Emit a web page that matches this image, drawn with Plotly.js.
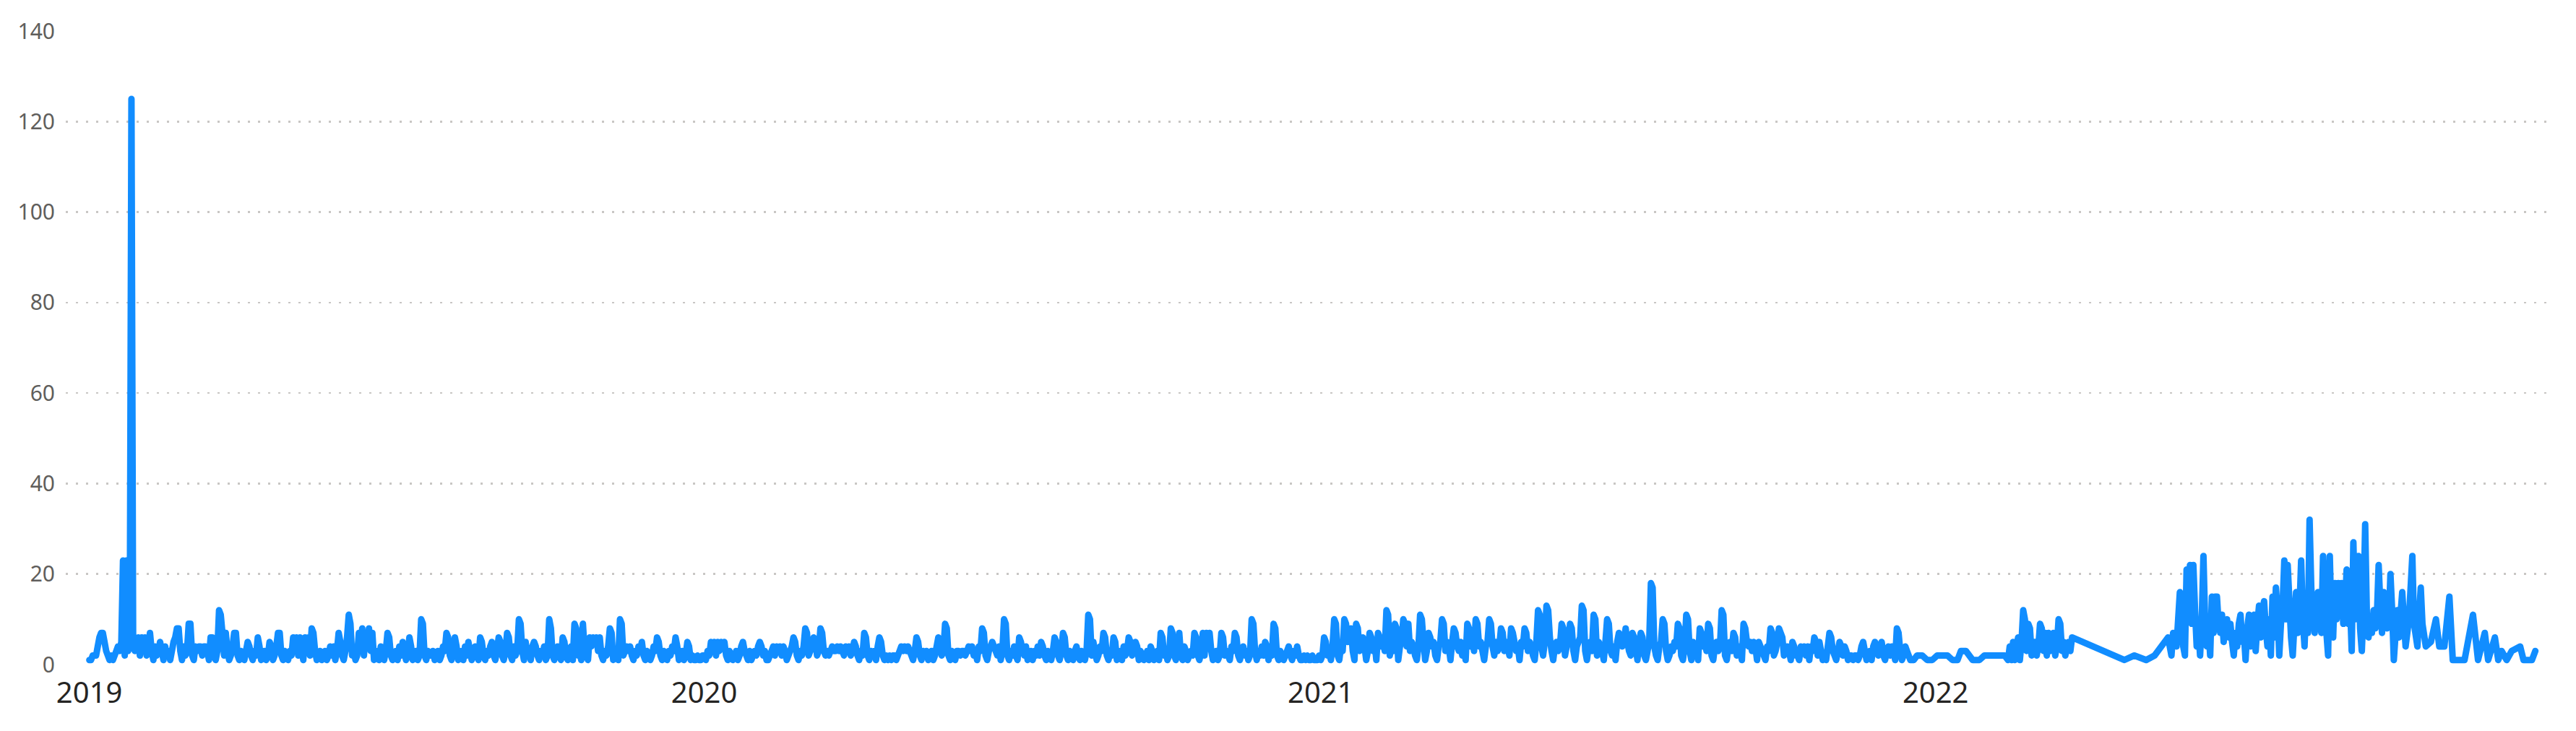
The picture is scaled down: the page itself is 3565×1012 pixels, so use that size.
<!DOCTYPE html>
<html>
<head>
<meta charset="utf-8">
<script src="https://cdn.plot.ly/plotly-3.0.1.min.js"></script>
<style>
  html, body { margin: 0; padding: 0; background: #fff; }
  .js-line { stroke-linejoin: round; stroke-linecap: round; }
</style>
</head>
<body>
<div id="graph" style="width:3565px;height:1012px;"></div>
<script>
// daily counts, one array per quarter
const y2019q1 = [
  1,1,2,2,2,4,6,7,7,5, 3,2,1,2,1,2,3,4,3,5, 23,2,23,3,4,125,4,3,4,6,
  2,6,3,6,2,4,7,3,1,4, 2,3,5,3,1,4,2,3,1,3, 5,6,8,8,3,1,4,2,3,9,
  9,2,1,4,3,4,4,2,4,4, 3,1,6,6,2,1,3,12,11,7, 2,7,3,1,2,4,7,7,2,1
];
const y2019q2 = [
  3,2,1,3,5,4,2,1,3,2, 6,4,1,2,3,1,2,5,4,1, 2,4,7,7,2,1,3,2,1,3,
  2,6,3,6,2,6,4,1,6,3, 6,2,8,7,3,1,2,3,1,2, 3,1,2,4,2,4,1,3,7,5,
  2,1,3,6,11,9,2,3,1,2, 7,3,8,2,7,4,8,3,7,1, 2,3,1,4,2,1,3,7,6,2,1
];
const y2019q3 = [
  2,3,1,4,2,5,3,1,2,6, 4,1,2,3,1,2,10,9,2,1, 3,2,2,3,1,2,3,1,2,4,
  3,7,6,2,1,3,6,4,1,2, 3,1,4,2,5,3,1,2,4,3, 1,6,5,2,1,3,2,4,5,2,
  1,3,6,5,2,1,3,7,6,2, 1,4,2,3,10,9,3,1,5,2, 3,1,4,5,4,2,1,3,2,4,1,2
];
const y2019q4 = [
  10,8,2,1,3,4,2,1,6,5, 2,1,3,4,1,9,8,2,3,1, 9,3,2,1,6,4,6,5,6,3,
  6,2,1,3,2,4,8,7,1,2, 3,1,10,9,2,3,4,3,4,2, 1,3,2,4,3,5,2,1,3,2,
  1,2,4,3,6,5,2,1,3,2, 1,3,2,4,3,6,4,1,2,3, 1,2,5,4,1,2,1,1,2,1,1,2
];
const y2020q1 = [
  2,1,3,2,5,4,5,2,5,3, 5,4,5,2,1,3,2,1,2,3, 1,2,4,5,3,2,1,3,1,2,
  3,2,4,5,4,2,3,1,1,2, 3,4,2,4,3,4,2,4,3,1, 2,3,4,6,5,2,1,3,2,4,
  8,7,2,3,4,6,5,2,3,8, 7,3,2,3,2,3,4,3,3,4, 3,4,3,2,4,3,4,2,3,5,4
];
const y2020q2 = [
  2,1,3,2,7,6,2,1,3,2, 3,1,4,6,5,2,1,2,1,2, 1,2,2,1,2,3,4,3,4,3,
  4,3,2,1,3,6,5,2,1,3, 2,3,1,2,3,1,2,4,6,5, 2,3,9,8,2,1,3,2,1,3,
  3,2,3,3,2,3,4,3,4,2, 3,1,4,3,8,7,2,1,3,4, 5,4,3,2,4,1,3,10,9,2,1
];
const y2020q3 = [
  3,2,4,2,1,6,5,3,2,4, 1,2,3,1,3,2,4,2,5,4, 2,1,3,2,1,3,6,5,2,1,
  3,7,6,2,1,3,2,1,3,4, 2,1,3,2,1,3,11,10,2,5, 3,1,2,4,3,7,6,2,1,3,
  2,6,5,1,2,3,1,4,2,3, 6,5,2,3,5,4,1,3,2,1, 2,3,1,4,3,1,2,3,1,7,6,2
];
const y2020q4 = [
  3,1,2,8,7,2,1,3,7,2, 1,4,3,1,2,3,2,7,6,2, 1,3,7,2,7,4,7,3,1,2,
  3,1,2,7,6,2,3,2,1,4, 3,7,6,2,1,3,4,2,3,1, 2,10,9,3,1,3,2,4,2,5,
  4,1,3,2,9,8,2,1,3,2, 1,2,3,4,2,1,3,2,4,2, 1,1,2,1,2,1,1,2,1,1,1,2
];
const y2021q1 = [
  1,2,6,5,2,3,1,4,10,9, 2,1,4,3,10,9,5,7,8,3, 1,9,8,3,5,6,4,1,3,7,
  6,3,5,1,7,6,4,5,3,12, 11,2,4,3,9,8,1,4,5,10, 9,4,9,3,5,4,2,1,4,11,
  10,5,1,3,7,6,4,5,2,1, 4,5,10,9,3,5,4,1,5,8, 7,4,3,5,2,4,1,9,8,4
];
const y2021q2 = [
  5,3,10,9,4,5,3,1,4,5, 10,9,4,2,5,3,4,8,7,3, 5,4,2,8,7,5,3,4,1,5,
  4,8,7,3,5,4,2,1,5,12, 11,4,2,5,13,12,6,3,1,4, 5,3,4,9,8,2,4,5,9,8,
  3,1,4,5,6,13,12,3,1,4, 5,3,11,10,2,5,4,3,1,5, 10,9,3,2,4,1,5,7,6,4,5
];
const y2021q3 = [
  8,5,3,2,7,6,4,1,5,7, 6,2,1,3,5,18,17,4,2,1, 4,5,10,9,3,1,2,4,3,5,
  4,9,8,2,1,4,11,10,3,1, 5,4,3,1,8,7,4,5,3,9, 8,2,1,4,5,3,4,12,11,2,
  1,4,5,3,7,6,2,4,3,1, 9,8,5,4,5,3,5,4,1,5, 4,3,2,1,4,3,8,7,2,3,5,8
];
const y2021q4 = [
  7,6,2,3,4,3,1,5,4,2, 2,1,4,3,4,2,4,1,4,3, 6,5,2,5,3,1,2,1,4,7,
  6,3,2,1,3,5,4,2,4,3, 1,2,2,1,2,2,1,2,4,5, 3,1,2,3,1,4,5,4,2,4,
  5,2,1,3,4,2,4,3,1,8, 7,3,1,2,4,3,2,1
];
const y2022feb = [
  4,1,5,1,4,6,1,5,12,10, 3,9,8,2,5,5,2,4,9,8, 3,7,2,7,3,6,7,2,4,10,
  9,3,5,2,4,5,3,6
];
// 28 May - 30 Sep 2022, daily
const y2022summer = [
  4,2,21,10,
  22,9,22,12,4,8,2,10,24,9, 4,8,2,15,7,15,15,9,7,11, 5,8,10,6,9,5,2,7,4,9,
  11,5,7,1,8,11,4,6,11,3, 9,13,6,12,14,8,4,10,2,15, 6,17,12,2,9,13,23,10,22,14, 6,
  2,9,16,7,12,23,10,4,14,7, 32,17,11,7,12,16,11,7,24,12, 7,2,24,9,6,18,10,18,12,18, 9,
  12,21,9,14,3,27,10,15,24,8, 3,12,31,11,6,10,7,12,8,11, 22,13,7,16,11,8,9,20,12,1
];

// sparser stretches: explicit dates
const gapDatesA = ['2021-12-19','2021-12-21','2021-12-24','2021-12-27','2021-12-30',
  '2022-01-02','2022-01-05','2022-01-08','2022-01-11','2022-01-14','2022-01-16',
  '2022-01-19','2022-01-23','2022-01-27','2022-01-30','2022-02-11','2022-02-13'];
const gapValsA = [1,2,2,1,1, 2,2,2,1,1,3, 3,1,1,2,2,1];

const gapDatesB = ['2022-04-23','2022-04-29','2022-05-06','2022-05-11','2022-05-19',
  '2022-05-21','2022-05-22','2022-05-24','2022-05-26'];
const gapValsB = [1,2,1,2,6, 2,7,4,16];

const gapDatesC = ['2022-10-02','2022-10-03','2022-10-05','2022-10-07','2022-10-09',
  '2022-10-11','2022-10-12','2022-10-14','2022-10-16','2022-10-17','2022-10-19',
  '2022-10-22','2022-10-25','2022-10-27','2022-10-30','2022-11-02','2022-11-04',
  '2022-11-11','2022-11-16','2022-11-19','2022-11-23','2022-11-25','2022-11-29',
  '2022-12-01','2022-12-03','2022-12-06','2022-12-09','2022-12-14','2022-12-16',
  '2022-12-21','2022-12-23'];
const gapValsC = [12,6,16,4,10, 24,9,4,17,9,4, 5,10,4,4,15,1, 1,11,1,7,1,6, 1,3,1,3,4,1, 1,3];

const dates = [];
const counts = [];

function addDaily(start, vals) {
  const t0 = Date.parse(start + 'T00:00:00Z');
  vals.forEach((v, i) => {
    dates.push(new Date(t0 + i * 86400000).toISOString().slice(0, 10));
    counts.push(v);
  });
}
function addDated(ds, vals) {
  ds.forEach((d, i) => { dates.push(d); counts.push(vals[i]); });
}

addDaily('2019-01-01', y2019q1);
addDaily('2019-04-01', y2019q2);
addDaily('2019-07-01', y2019q3);
addDaily('2019-10-01', y2019q4);
addDaily('2020-01-01', y2020q1);
addDaily('2020-04-01', y2020q2);
addDaily('2020-07-01', y2020q3);
addDaily('2020-10-01', y2020q4);
addDaily('2021-01-01', y2021q1);
addDaily('2021-04-01', y2021q2);
addDaily('2021-07-01', y2021q3);
addDaily('2021-10-01', y2021q4);
addDated(gapDatesA, gapValsA);
addDaily('2022-02-14', y2022feb);
addDated(gapDatesB, gapValsB);
addDaily('2022-05-28', y2022summer);
addDated(gapDatesC, gapValsC);

const trace = {
  x: dates,
  y: counts,
  type: 'scatter',
  mode: 'lines',
  line: { color: '#118DFF', width: 9, simplify: false },
  hoverinfo: 'skip'
};

const layout = {
  width: 3565,
  height: 1012,
  margin: { l: 91, r: 33, t: 43, b: 92 },
  paper_bgcolor: '#ffffff',
  plot_bgcolor: '#ffffff',
  showlegend: false,
  font: { family: 'Segoe UI, Noto Sans, sans-serif' },
  xaxis: {
    type: 'date',
    range: ['2018-12-18', '2023-01-02'],
    tick0: '2019-01-01',
    dtick: 'M12',
    tickformat: '%Y',
    showgrid: false,
    zeroline: false,
    showline: false,
    ticks: '',
    ticklabelstandoff: 12,
    tickfont: { size: 40, color: '#252423' }
  },
  yaxis: {
    range: [0, 140],
    dtick: 20,
    showgrid: true,
    gridcolor: '#C8C6C4',
    gridwidth: 2.5,
    griddash: '3px,11px',
    zeroline: false,
    showline: false,
    ticks: '',
    ticklabelstandoff: 14,
    tickfont: { size: 30, color: '#605E5C' }
  }
};

Plotly.newPlot('graph', [trace], layout, { displayModeBar: false, staticPlot: true });
</script>
</body>
</html>
